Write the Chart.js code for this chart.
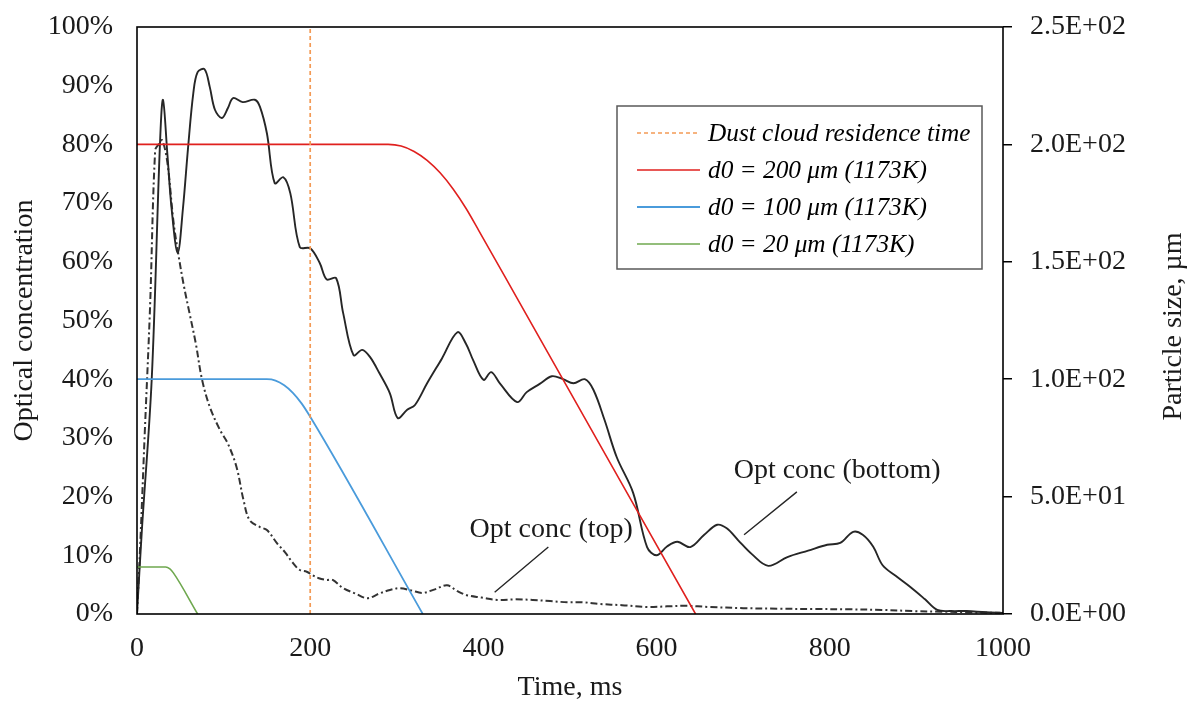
<!DOCTYPE html>
<html><head><meta charset="utf-8">
<script src="https://cdn.jsdelivr.net/npm/chart.js@4.4.0/dist/chart.umd.min.js"></script>
<style>html,body{margin:0;padding:0;background:#fff;}#wrap{width:1189px;height:704px;position:relative;}</style>
</head><body><div id="wrap"><canvas id="c" width="1189" height="704"></canvas></div>
<script>
// ---- data ----
const timeTicks = [0, 200, 400, 600, 800, 1000];
const bottomTime = [0,5.5,17,26.5,30,35,40,47,53,59,
  65,70,78,84,90,98,105,111,122,136,
  142,150,159,169,177,188,200,211,219,230,
  238,250,260,269,280,292,301,312,321,335,
  352,370,380,388,400,409,419,439,450,465,
  479,492,504,517,527,540,554,573,589,600,
  612,624,639,655,670,681,694,710,729,751,
  775,797,812,827,838,850,861,876,893,910,
  924,940,958,980,1000];
const bottomConc = [0,14,40,80,87.6,78.5,69,61.5,69,79.5,
  88.7,92.3,92.8,89.8,85.9,84.5,86.2,87.9,87.2,87.6,
  86.4,81.9,73.4,74.4,71.7,62.5,62.3,59.8,57,57.2,
  51.3,44.1,45,43.8,41,37.6,33.4,34.8,35.6,39.3,
  43.5,48,46,43.3,39.9,41.2,39.3,36.1,37.8,39.2,
  40.5,40,39.3,40,38.2,33,26.7,20.6,11.4,10,
  11.5,12.3,11.4,13.5,15.2,14.6,12.6,10.2,8.2,9.7,
  10.8,11.8,12.1,14,13.5,11.5,8.3,6.5,4.6,2.5,
  0.7,0.5,0.5,0.3,0.2];
const topTime = [0,3.5,9,15,21,25,29,35,42,47.5,
  54,61,68,75,84,96,105,115,123,130,
  142,150,162,171,180,188,196,203,210,219,
  226,238,252,266,280,292,304,317,330,344,
  358,370,381,398,416,437,457,477,497,515,
  535,560,589,612,635,660,700,740,781,820,
  860,896,930,960,997];
const topConc = [0,11,31,52,79,80,80.7,77,67,61.5,
  56,51,46,40,35.3,31.3,29,25,19.4,16,
  14.8,14.3,12,10.5,8.7,7.5,7.2,6.6,6.1,5.8,
  5.8,4.4,3.5,2.7,3.5,4.1,4.4,4.0,3.6,4.2,
  4.9,3.9,3.2,2.8,2.4,2.5,2.4,2.2,2.0,2.0,
  1.7,1.5,1.2,1.3,1.4,1.2,1.0,0.9,0.85,0.8,
  0.7,0.5,0.4,0.3,0.2];
const d200Time = [0,290,305,320,335,350,365,380,395,439,645];
const d200Size = [200,200,199.3,197,193.2,187.9,181,172.7,163.1,134.4,0];
const d100Time = [0,150,160,170,180,190,200,330];
const d100Size = [100,100,99.4,97.4,94.2,89.7,84,0];
const d20Time = [0,33,38,42,70];
const d20Size = [20,20,19.2,17.5,0];
const residenceTime = [200, 200];
const residenceConc = [0, 100];
const seriesLabels = ['Dust cloud residence time','d0 = 200 μm (1173K)','d0 = 100 μm (1173K)','d0 = 20 μm (1173K)'];
const curveLabels = ['Opt conc (bottom)','Opt conc (top)'];

// ---- helpers ----
const pts = (xs, ys) => xs.map((x, i) => ({x, y: ys[i]}));
const FONT = 'Liberation Serif, Times New Roman, serif';
const TXT = '#1a1a1a';
const FS = 28;
const noPad = s => { s.paddingTop = 0; s.paddingBottom = 0; s.paddingLeft = 0; s.paddingRight = 0; };

const datasets = [
  {label: seriesLabels[0], data: pts(residenceTime, residenceConc), yAxisID: 'y',
   borderColor: '#F39A55', borderWidth: 1.7, borderDash: [4, 3], pointRadius: 0, tension: 0, inLegend: true},
  {label: seriesLabels[1], data: pts(d200Time, d200Size), yAxisID: 'y2',
   borderColor: '#E0201E', borderWidth: 1.6, pointRadius: 0, cubicInterpolationMode: 'monotone', inLegend: true},
  {label: seriesLabels[2], data: pts(d100Time, d100Size), yAxisID: 'y2',
   borderColor: '#4A9BDB', borderWidth: 1.8, pointRadius: 0, cubicInterpolationMode: 'monotone', inLegend: true},
  {label: seriesLabels[3], data: pts(d20Time, d20Size), yAxisID: 'y2',
   borderColor: '#6FA84F', borderWidth: 1.6, pointRadius: 0, cubicInterpolationMode: 'monotone', inLegend: true},
  {label: curveLabels[0], data: pts(bottomTime, bottomConc), yAxisID: 'y',
   borderColor: '#262626', borderWidth: 1.9, pointRadius: 0, tension: 0.35},
  {label: curveLabels[1], data: pts(topTime, topConc), yAxisID: 'y',
   borderColor: '#333333', borderWidth: 2, borderDash: [7, 3, 2, 3], pointRadius: 0, tension: 0.35}
];

const framePlugin = {
  id: 'frame',
  afterDraw(chart) {
    const {ctx, chartArea: a, scales} = chart;
    ctx.save();
    ctx.strokeStyle = '#000';
    ctx.lineWidth = 1.6;
    ctx.strokeRect(a.left, a.top, a.right - a.left, a.bottom - a.top);
    // right axis title (reads bottom to top)
    ctx.fillStyle = TXT;
    ctx.font = FS + 'px ' + FONT;
    ctx.textAlign = 'center';
    ctx.textBaseline = 'middle';
    ctx.translate(chart.width - 15, (a.top + a.bottom) / 2 + 6);
    ctx.rotate(-Math.PI / 2);
    ctx.fillText('Particle size, µm', 0, 0);
    ctx.restore();

    // curve annotations with leader lines (anchored in data coordinates)
    const X = scales.x, Y = scales.y;
    ctx.save();
    ctx.fillStyle = TXT;
    ctx.strokeStyle = '#262626';
    ctx.lineWidth = 1.4;
    ctx.font = FS + 'px ' + FONT;
    ctx.textAlign = 'left';
    ctx.textBaseline = 'middle';
    ctx.fillText(curveLabels[0], X.getPixelForValue(689), Y.getPixelForValue(24.5));
    ctx.fillText(curveLabels[1], X.getPixelForValue(384), Y.getPixelForValue(14.3));
    ctx.beginPath();
    ctx.moveTo(X.getPixelForValue(762), Y.getPixelForValue(20.8));
    ctx.lineTo(X.getPixelForValue(701), Y.getPixelForValue(13.5));
    ctx.moveTo(X.getPixelForValue(475), Y.getPixelForValue(11.4));
    ctx.lineTo(X.getPixelForValue(413), Y.getPixelForValue(3.7));
    ctx.stroke();
    ctx.restore();

    // legend box
    const bx = 617, by = 106, bw = 365, bh = 163;
    ctx.save();
    ctx.fillStyle = '#fff';
    ctx.fillRect(bx, by, bw, bh);
    ctx.strokeStyle = '#595959';
    ctx.lineWidth = 1.5;
    ctx.strokeRect(bx, by, bw, bh);
    const rows = chart.data.datasets.filter(d => d.inLegend);
    ctx.font = 'italic 25.3px ' + FONT;
    ctx.textAlign = 'left';
    ctx.textBaseline = 'middle';
    rows.forEach((d, i) => {
      const yy = by + 27 + i * 37;
      ctx.beginPath();
      ctx.strokeStyle = d.borderColor;
      ctx.lineWidth = d.borderWidth;
      ctx.setLineDash(d.borderDash || []);
      ctx.moveTo(bx + 20, yy);
      ctx.lineTo(bx + 83, yy);
      ctx.stroke();
      ctx.setLineDash([]);
      ctx.fillStyle = '#000';
      ctx.fillText(d.label, bx + 91, yy + 1);
    });
    ctx.restore();
  }
};

new Chart(document.getElementById('c'), {
  type: 'line',
  data: {datasets},
  options: {
    responsive: false,
    animation: false,
    layout: {padding: {top: 27, left: 0, right: 0, bottom: 0}},
    plugins: {legend: {display: false}, tooltip: {enabled: false}},
    scales: {
      x: {
        type: 'linear', min: 0, max: 1000,
        afterBuildTicks: s => { s.ticks = timeTicks.map(v => ({value: v})); },
        afterFit: s => { s.height = 90; noPad(s); },
        grid: {display: false, drawTicks: false},
        border: {display: false},
        ticks: {font: {family: FONT, size: FS}, color: TXT, padding: 18, maxRotation: 0, callback: v => String(v)},
        title: {display: true, text: 'Time, ms', font: {family: FONT, size: FS}, color: TXT, padding: {top: 0, bottom: 0}}
      },
      y: {
        position: 'left', min: 0, max: 100,
        afterFit: s => { s.width = 137; noPad(s); },
        grid: {display: false, drawTicks: false},
        border: {display: false},
        ticks: {stepSize: 10, font: {family: FONT, size: FS}, color: TXT, padding: 24, callback: v => v + '%'},
        title: {display: true, text: 'Optical concentration', font: {family: FONT, size: FS}, color: TXT, padding: {top: 8, bottom: 0}}
      },
      y2: {
        position: 'right', min: 0, max: 250,
        afterFit: s => { s.width = 186; noPad(s); },
        grid: {display: true, drawOnChartArea: false, drawTicks: true, tickLength: 9, color: '#000', lineWidth: 1.5},
        border: {display: false},
        ticks: {stepSize: 50, font: {family: FONT, size: FS}, color: TXT, padding: 18,
          callback: v => Number(v).toExponential(1).toUpperCase().replace(/E([+-])(\d)$/, 'E$10$2')}
      }
    }
  },
  plugins: [framePlugin]
});
</script>
</body></html>
